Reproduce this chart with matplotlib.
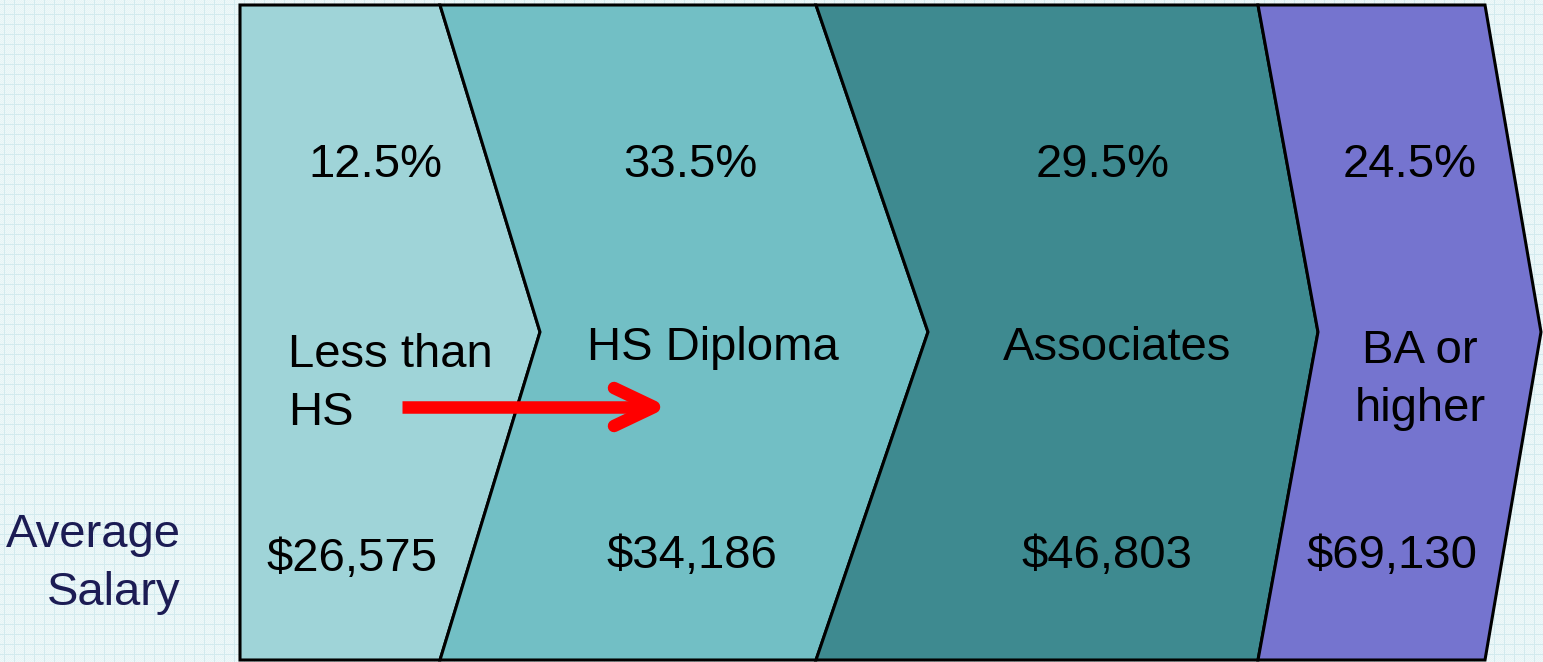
import numpy as np
import matplotlib
matplotlib.use("Agg")
import matplotlib.pyplot as plt
from matplotlib.patches import Polygon

# ---- data ----
categories = ["Less than\nHS", "HS Diploma", "Associates", "BA or\nhigher"]
shares = [12.5, 33.5, 29.5, 24.5]
salaries = [26575, 34186, 46803, 69130]
row_label = "Average\nSalary"

# ---- layout (pixel coordinates of the diagram) ----
W, H = 1543, 662
top, bottom, mid = 5, 660, 332
left_edges = [240, 440, 816, 1258]     # x of each chevron's top/bottom left corners
right_edges = [440, 816, 1258, 1485]   # x of top/bottom right corners
tips = [540, 928, 1318, 1541]          # x of pointed tip
colors = ["#9FD4D8", "#72BFC5", "#3E8A90", "#7574CF"]
pct_pos = [(375, 165), (690, 165), (1103, 165), (1410, 165)]
cat_pos = [(288, 384, "left"), (713, 348, "center"), (1117, 348, "center"), (1420, 380, "center")]
sal_pos = [(352, 559), (692, 556), (1107, 556), (1392, 556)]

fig = plt.figure(figsize=(W / 100, H / 100), dpi=100)
ax = fig.add_axes([0, 0, 1, 1])
ax.set_xlim(0, W)
ax.set_ylim(H, 0)
ax.axis("off")

# background grid pattern
bg = np.ones((H, W, 3))
base = np.array([0xE6, 0xF4, 0xF6]) / 255
line = np.array([0xD2, 0xEA, 0xEE]) / 255
bg[:, :] = base
yy, xx = np.mgrid[0:H, 0:W]
chk = ((xx + yy) % 2 == 0)
bg[chk] = np.array([0xEE, 0xF8, 0xF9]) / 255
bg[(xx % 10) == 4] = line
bg[(yy % 10) == 4] = line
ax.imshow(bg, extent=(0, W, H, 0), zorder=0, interpolation="nearest")

font = "Liberation Sans"
fs = 34

for i in range(4):
    l, r, t = left_edges[i], right_edges[i], tips[i]
    pts = [(l, top), (r, top), (t, mid), (r, bottom), (l, bottom)]
    if i > 0:
        pts.append((tips[i - 1], mid))
    ax.add_patch(Polygon(pts, closed=True, facecolor=colors[i], edgecolor="black",
                         linewidth=2.2, joinstyle="miter", zorder=2 + i))

for i in range(4):
    x, y = pct_pos[i]
    ax.text(x, y, f"{shares[i]:.1f}%", ha="center", va="center", fontsize=fs,
            family=font, color="black", zorder=10)
    x, y, ha = cat_pos[i]
    ax.text(x, y, categories[i], ha=ha, va="center", fontsize=fs, family=font,
            color="black", zorder=10, multialignment=ha, linespacing=1.42)
    x, y = sal_pos[i]
    ax.text(x, y, f"${salaries[i]:,}", ha="center", va="center", fontsize=fs,
            family=font, color="black", zorder=10)

ax.text(181, 564, row_label, ha="right", va="center", fontsize=fs, family=font,
        color="#1C1C54", multialignment="right", linespacing=1.42, zorder=10)

# red arrow
ax.plot([402, 650], [407, 407], color="#FF0000", lw=9, solid_capstyle="butt", zorder=12)
ax.plot([614, 654, 614], [388, 407, 426], color="#FF0000", lw=9,
        solid_capstyle="round", solid_joinstyle="round", zorder=12)

fig.savefig("out.png", dpi=100)
